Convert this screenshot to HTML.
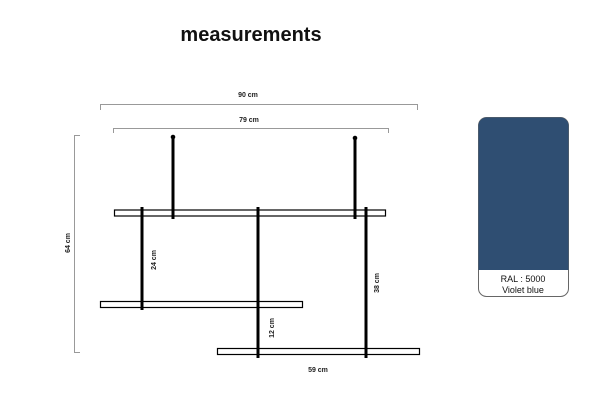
<!DOCTYPE html>
<html><head><style>
body{margin:0;width:600px;height:415px;background:#fff;overflow:hidden;font-family:"Liberation Sans",sans-serif}
</style></head><body>
<svg width="600" height="415" xmlns="http://www.w3.org/2000/svg" font-family="Liberation Sans, sans-serif">
<text x="251" y="41" text-anchor="middle" font-size="20" font-weight="bold" fill="#111">measurements</text>
<g stroke="#999" stroke-width="1" fill="none">
<path d="M100.5 110V104.5H417.5V110"/>
<path d="M113.5 133V128.5H388.5V133"/>
<path d="M80 135.5H74.5V352.5H80"/>
</g>
<g font-size="7" font-weight="bold" fill="#222" text-anchor="middle">
<text x="248" y="97">90 cm</text>
<text x="249" y="122">79 cm</text>
<text x="318" y="372">59 cm</text>
<text transform="translate(70,243) rotate(-90)">64 cm</text>
<text transform="translate(156,260) rotate(-90)">24 cm</text>
<text transform="translate(379,283) rotate(-90)">38 cm</text>
<text transform="translate(274,328) rotate(-90)">12 cm</text>
</g>
<g fill="#fff" stroke="#000" stroke-width="1.2">
<rect x="114.5" y="210" width="271" height="6"/>
<rect x="100.5" y="301.5" width="202" height="6"/>
<rect x="217.5" y="348.5" width="202" height="6"/>
</g>
<g stroke="#000" stroke-width="3">
<line x1="173" y1="137" x2="173" y2="219"/>
<line x1="355" y1="138" x2="355" y2="219"/>
<line x1="142" y1="207" x2="142" y2="310"/>
<line x1="258" y1="207" x2="258" y2="358"/>
<line x1="366" y1="207" x2="366" y2="358"/>
</g>
<circle cx="173" cy="137" r="2.3"/><circle cx="355" cy="138" r="2.3"/>
<rect x="478.5" y="117.5" width="90" height="179" rx="8" fill="#fff" stroke="#666"/>
<path d="M478.5 270V125.5a8 8 0 0 1 8-8h74a8 8 0 0 1 8 8V270Z" fill="#2f4e72"/>
<text x="523" y="282" text-anchor="middle" font-size="9" fill="#111">RAL : 5000</text>
<text x="523" y="293" text-anchor="middle" font-size="9" fill="#111">Violet blue</text>
</svg>
</body></html>
